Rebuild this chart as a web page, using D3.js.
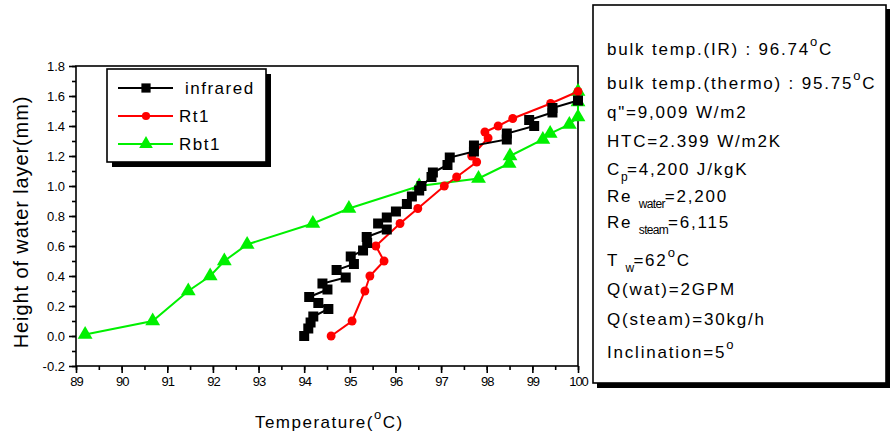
<!DOCTYPE html>
<html><head><meta charset="utf-8">
<script src="https://cdn.jsdelivr.net/npm/d3@7"></script>
<style>
body{margin:0;background:#fff}
svg{display:block}
text{font-family:"Liberation Sans",Arial,Helvetica,sans-serif;fill:#000}
</style>
</head><body>
<svg id="c" width="891" height="436"></svg>
<script>
// ---------- data ----------
const xTicks = [89,90,91,92,93,94,95,96,97,98,99,100];
const yTicks = [-0.2,0.0,0.2,0.4,0.6,0.8,1.0,1.2,1.4,1.6,1.8];
const seriesNames = ["infrared","Rt1","Rbt1"];

const infraredX = [94.00,94.09,94.14,94.20,94.53,94.31,94.11,94.51,94.40,94.91,94.71,95.09,95.02,95.29,95.38,95.37,95.81,95.62,95.81,96.01,96.25,96.36,96.52,96.57,96.79,96.82,97.14,97.19,97.72,97.72,98.44,98.44,99.04,98.93,99.44,99.44,100.0];
const infraredY = [0.00,0.05,0.09,0.13,0.18,0.22,0.26,0.31,0.35,0.39,0.44,0.48,0.53,0.57,0.62,0.66,0.71,0.75,0.79,0.83,0.88,0.93,0.97,1.00,1.06,1.09,1.14,1.19,1.23,1.27,1.31,1.35,1.40,1.44,1.49,1.52,1.57];

const rt1X = [94.59,95.05,95.33,95.44,95.75,95.57,96.10,96.49,97.07,97.34,97.78,97.67,98.03,97.96,98.25,98.57,99.40,100.0];
const rt1Y = [0.00,0.10,0.30,0.40,0.50,0.60,0.75,0.85,1.00,1.06,1.16,1.20,1.32,1.36,1.40,1.45,1.55,1.63];

const rbt1X = [89.20,90.68,91.46,91.94,92.25,92.75,94.19,94.98,96.52,97.82,98.49,98.51,99.23,99.39,99.81,100.0,100.0,100.0];
const rbt1Y = [0.01,0.10,0.30,0.40,0.50,0.61,0.75,0.85,1.00,1.05,1.15,1.20,1.31,1.35,1.41,1.46,1.56,1.63];

const infoLines = [
  [["bulk temp.(IR) : 96.74"],["o","sup"],["C"]],
  [["bulk temp.(thermo) : 95.75"],["o","sup"],["C"]],
  [["q\"=9,009 W/m2"]],
  [["HTC=2.399 W/m2K"]],
  [["C"],["p","sub"],["=4,200 J/kgK"]],
  [["Re "],["water","sub"],["=2,200"]],
  [["Re "],["steam","sub"],["=6,115"]],
  [["T "],["w","sub"],["=62"],["o","sup"],["C"]],
  [["Q(wat)=2GPM"]],
  [["Q(steam)=30kg/h"]],
  [["Inclination=5"],["o","sup"]]
];

// ---------- layout ----------
const svg = d3.select("#c");
const x = d3.scaleLinear().domain([89,100]).range([76,578]);
const y = d3.scaleLinear().domain([-0.2,1.8]).range([366,66]);

const colors = ["#000000","#ff0000","#00f000"];
const symbols = [d3.symbolSquare, d3.symbolCircle, d3.symbolTriangle];
const sizes = [100, 62, 95];

// plot frame
svg.append("rect").attr("x",x(89)).attr("y",y(1.8))
  .attr("width",x(100)-x(89)).attr("height",y(-0.2)-y(1.8))
  .attr("fill","none").attr("stroke","#000").attr("stroke-width",1.6);

// axes
const xMinor = d3.range(89,100.01,0.5);
const yMinor = d3.range(-0.2,1.801,0.1);
const gx = svg.append("g").attr("transform",`translate(0,${y(-0.2)})`);
gx.call(d3.axisBottom(x).tickValues(xMinor).tickSize(4).tickFormat(""));
gx.select(".domain").remove();
const gx2 = svg.append("g").attr("transform",`translate(0,${y(-0.2)})`);
gx2.call(d3.axisBottom(x).tickValues(xTicks).tickSize(7).tickPadding(4).tickFormat(d=>String(d)));
gx2.select(".domain").remove();
gx2.selectAll("text").attr("font-size",13).attr("letter-spacing","-1px").attr("font-family","Liberation Sans, Arial, sans-serif");

const gy = svg.append("g").attr("transform",`translate(${x(89)},0)`);
gy.call(d3.axisLeft(y).tickValues(yMinor).tickSize(4).tickFormat(""));
gy.select(".domain").remove();
const gy2 = svg.append("g").attr("transform",`translate(${x(89)},0)`);
gy2.call(d3.axisLeft(y).tickValues(yTicks).tickSize(7).tickPadding(4).tickFormat(d=>d.toFixed(1)));
gy2.select(".domain").remove();
gy2.selectAll("text").attr("font-size",13).attr("font-family","Liberation Sans, Arial, sans-serif");
svg.selectAll("g line").attr("stroke","#000").attr("stroke-width",1.6);

// axis titles
const xt = svg.append("text").attr("x",x(94.55)).attr("y",428).attr("text-anchor","middle")
  .attr("font-size",17).attr("letter-spacing","1.5px");
xt.append("tspan").text("Temperature(");
xt.append("tspan").attr("font-size",13).attr("dy",-9).text("o");
xt.append("tspan").attr("dy",9).text("C)");

svg.append("text").attr("transform","translate(28,222) rotate(-90)").attr("text-anchor","middle")
  .attr("font-size",20).attr("letter-spacing","0.9px").text("Height of water layer(mm)");

// series
const series = [
  {xs:infraredX, ys:infraredY},
  {xs:rt1X, ys:rt1Y},
  {xs:rbt1X, ys:rbt1Y}
];
const line = d3.line().x(d=>x(d[0])).y(d=>y(d[1]));
[2,1,0].forEach(i=>{
  const s = series[i];
  const pts = s.xs.map((v,j)=>[v,s.ys[j]]);
  svg.append("path").datum(pts).attr("d",line).attr("fill","none")
    .attr("stroke",colors[i]).attr("stroke-width",2);
  svg.append("g").selectAll("path").data(pts).join("path")
    .attr("transform",d=>`translate(${x(d[0])},${y(d[1])})`)
    .attr("d",d3.symbol().type(symbols[i]).size(sizes[i]))
    .attr("fill",colors[i]);
});

// legend
const lg = svg.append("g");
lg.append("rect").attr("x",112).attr("y",74).attr("width",159).attr("height",93).attr("fill","#000");
lg.append("rect").attr("x",107).attr("y",69).attr("width",159).attr("height",93)
  .attr("fill","#fff").attr("stroke","#000").attr("stroke-width",1.6);
const legY = [88,116,144];
const legTX = [185,179,179];
seriesNames.forEach((n,i)=>{
  lg.append("line").attr("x1",118).attr("x2",173).attr("y1",legY[i]).attr("y2",legY[i])
    .attr("stroke",colors[i]).attr("stroke-width",2);
  lg.append("path").attr("transform",`translate(146,${legY[i]})`)
    .attr("d",d3.symbol().type(symbols[i]).size(sizes[i]*0.85)).attr("fill",colors[i]);
  lg.append("text").attr("x",legTX[i]).attr("y",legY[i]+6).attr("font-size",17)
    .attr("letter-spacing","1.5px").text(n);
});

// info box
const ib = svg.append("g");
ib.append("rect").attr("x",597).attr("y",9).attr("width",293).attr("height",379).attr("fill","#000");
ib.append("rect").attr("x",593).attr("y",5).attr("width",293).attr("height",378)
  .attr("fill","#fff").attr("stroke","#000").attr("stroke-width",1.6);
const baselines = [55,89,118,147,175,202,228,266,295,325,358];
infoLines.forEach((segs,i)=>{
  const t = ib.append("text").attr("x",607).attr("y",baselines[i]).attr("font-size",17)
    .attr("letter-spacing","1.8px");
  let shift = 0;
  segs.forEach(s=>{
    const type = s[1];
    const target = type==="sup" ? -9 : type==="sub" ? 6 : 0;
    const ts = t.append("tspan").attr("dy",target-shift).text(s[0]);
    if(type==="sup") ts.attr("font-size",13);
    if(type==="sub") ts.attr("font-size",12).attr("letter-spacing","-0.7px");
    shift = target;
  });
});
</script>
</body></html>
